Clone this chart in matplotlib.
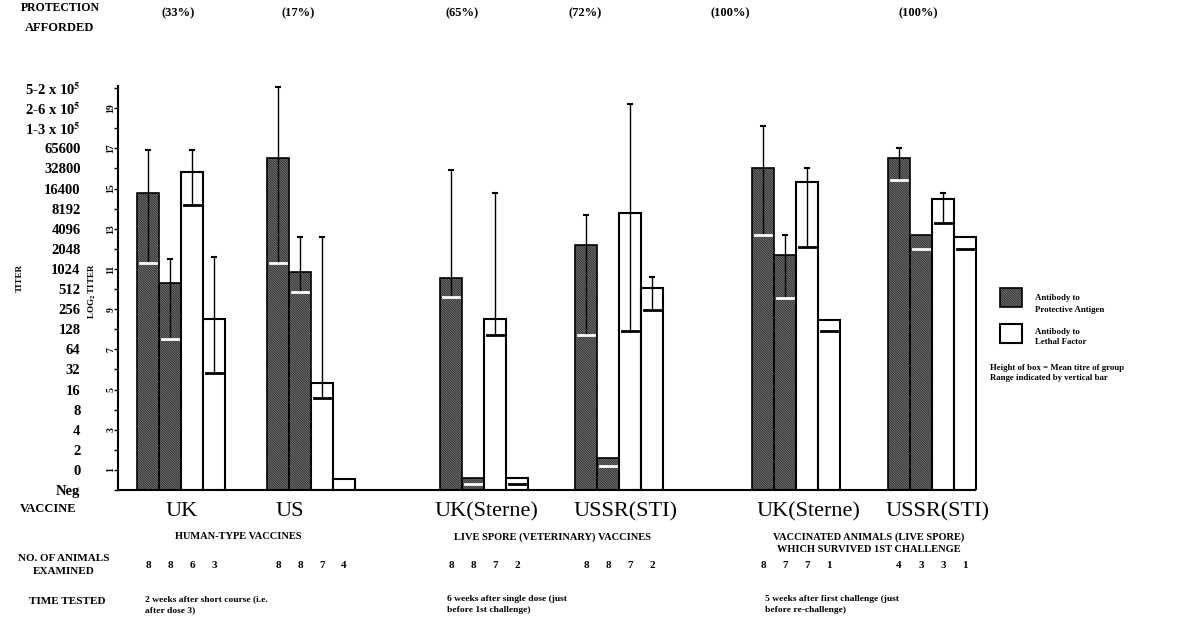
import matplotlib
matplotlib.use('Agg')
import matplotlib.pyplot as plt
from matplotlib.patches import Rectangle

plt.rcParams['font.family'] = ['Liberation Serif', 'DejaVu Serif']
plt.rcParams['font.weight'] = 'bold'
plt.rcParams['mathtext.fontset'] = 'stix'
plt.rcParams['hatch.linewidth'] = 0.8

vaccines = ['UK', 'US', 'UK(Sterne)', 'USSR(STI)', 'UK(Sterne)', 'USSR(STI)']
protection = ['(33%)', '(17%)', '(65%)', '(72%)', '(100%)', '(100%)']
n_animals = [[8, 8, 6, 3], [8, 8, 7, 4], [8, 8, 7, 2],
             [8, 8, 7, 2], [8, 7, 7, 1], [4, 3, 3, 1]]

# titre in log2 steps: 0 = "0" row, -1 = Neg
# bars per group: PA, PA, LF, LF
mean_titre = [[13.8, 9.3, 14.8, 7.5],
              [15.5, 9.85, 4.3, -0.45],
              [9.55, -0.4, 7.5, -0.4],
              [11.2, 0.6, 12.8, 9.05],
              [15.0, 10.7, 14.3, 7.45],
              [15.5, 11.7, 13.5, 11.6]]
range_high = [[15.9, 10.5, 15.9, 10.6],
              [19.05, 11.6, 11.6, None],
              [14.9, None, 13.8, None],
              [12.7, None, 18.2, 9.6],
              [17.1, 11.7, 15.0, None],
              [16.0, None, 13.8, None]]
range_low = [[10.3, 6.5, 13.2, 4.8],
             [10.3, 8.85, 3.6, None],
             [8.6, -0.7, 6.7, -0.7],
             [6.7, 0.2, 6.9, 7.95],
             [11.7, 8.55, 11.1, 6.9],
             [14.4, 11.0, 12.3, 11.0]]

titer_labels = ['Neg', '0', '2', '4', '8', '16', '32', '64', '128', '256', '512',
                '1024', '2048', '4096', '8192', '16400', '32800', '65600',
                '1-3 x 10$^5$', '2-6 x 10$^5$', '5-2 x 10$^5$']

time_tested = ['2 weeks after short course (i.e.\nafter dose 3)',
               '6 weeks after single dose (just\nbefore 1st challenge)',
               '5 weeks after first challenge (just\nbefore re-challenge)']
group_titles = ['HUMAN-TYPE VACCINES', 'LIVE SPORE (VETERINARY) VACCINES',
                'VACCINATED ANIMALS (LIVE SPORE)\nWHICH SURVIVED 1ST CHALLENGE']

# layout (pixels)
group_left = [19, 149, 322, 457, 634, 770]
bar_w = 22
dark = '#161616'
hatch_col = '#707070'

fig = plt.figure(figsize=(12, 6.24), dpi=100)
ax = fig.add_axes([118 / 1200, (624 - 490) / 624, 882 / 1200, 410 / 624])
ax.set_xlim(0, 882)
ax.set_ylim(-1, 19.4)

for g in range(6):
    for k in range(4):
        x = group_left[g] + k * bar_w
        m = mean_titre[g][k]
        xc = x + bar_w / 2
        if k < 2:
            ax.bar(x, m + 1, bottom=-1, width=bar_w, align='edge', color=dark,
                   edgecolor=hatch_col, hatch='\\' * 14, linewidth=0, zorder=2)
            ax.bar(x, m + 1, bottom=-1, width=bar_w, align='edge', fill=False,
                   edgecolor='black', linewidth=1.2, zorder=3)
        else:
            ax.bar(x, m + 1, bottom=-1, width=bar_w, align='edge', color='white',
                   edgecolor='black', linewidth=1.5, zorder=2)
        hi = range_high[g][k]
        lo = range_low[g][k]
        if hi is not None:
            ax.plot([xc, xc], [lo, hi], color='black', lw=1, zorder=4)
            ax.plot([xc - 2, xc + 2], [hi, hi], color='black', lw=1.5, zorder=4)
        if lo is not None:
            ax.plot([x + 3, x + bar_w - 3], [lo, lo],
                    color='white' if k < 2 else 'black', lw=2, zorder=5)

ax.set_xticks([])
ax.set_yticks(range(-1, 20))
ax.set_yticklabels(titer_labels, fontsize=10.5)
ax.tick_params(axis='y', length=3, width=1, pad=24)
for s in ['top', 'right']:
    ax.spines[s].set_visible(False)
ax.spines['left'].set_bounds(-1, 19.1)
ax.spines['bottom'].set_bounds(0, 857)
ax.spines['left'].set_linewidth(1.5)
ax.spines['bottom'].set_linewidth(1.5)

for k in range(10):
    ax.text(-7, 2 * k, str(2 * k + 1), rotation=90, fontsize=7,
            ha='center', va='center', clip_on=False)
ax.text(-26, 8.9, 'LOG$_2$ TITER', rotation=90, fontsize=6.5,
        ha='center', va='center', clip_on=False)

# annotation layer in pixel coords
ov = fig.add_axes([0, 0, 1, 1])
ov.set_xlim(0, 1200)
ov.set_ylim(624, 0)
ov.axis('off')

ov.text(20, 278, 'TITER', rotation=90, fontsize=6.5, ha='center', va='center')
ov.text(60, 8, 'PROTECTION', fontsize=8.5, ha='center', va='center')
ov.text(60, 28, 'AFFORDED', fontsize=9, ha='center', va='center')
for xp, p in zip([178, 298, 462, 585, 730, 918], protection):
    ov.text(xp, 13, p, fontsize=9, ha='center', va='center')

ov.text(48, 509, 'VACCINE', fontsize=9, ha='center', va='center')
for xp, v in zip([182, 290, 486, 626, 808, 937], vaccines):
    ov.text(xp, 512, v, fontsize=16, ha='center', va='center', fontweight='normal')
for xp, t in zip([238, 553, 869], group_titles):
    ov.text(xp, 532, t, fontsize=7.5, ha='center', va='top', linespacing=1.5)

ov.text(64, 565, 'NO. OF ANIMALS\nEXAMINED', fontsize=8, ha='center', va='center',
        linespacing=1.6)
for g in range(6):
    for k in range(4):
        ov.text(118 + group_left[g] + (k + 0.5) * bar_w, 566, str(n_animals[g][k]),
                fontsize=8, ha='center', va='center')

ov.text(67, 601, 'TIME TESTED', fontsize=8, ha='center', va='center')
for xp, t in zip([145, 447, 765], time_tested):
    ov.text(xp, 595, t, fontsize=6.8, ha='left', va='top', linespacing=1.5)

# legend
ov.add_patch(Rectangle((1000, 288), 22, 19, facecolor=dark, edgecolor=hatch_col,
                       hatch='\\' * 14, linewidth=0))
ov.add_patch(Rectangle((1000, 288), 22, 19, fill=False, edgecolor='black', linewidth=1.2))
ov.add_patch(Rectangle((1000, 324), 22, 19, facecolor='white', edgecolor='black',
                       linewidth=1.5))
ov.text(1035, 304, 'Antibody to\nProtective Antigen', fontsize=6.3, ha='left', va='center',
        linespacing=1.5)
ov.text(1035, 337, 'Antibody to\nLethal Factor', fontsize=6.3, ha='left', va='center',
        linespacing=1.5)
ov.text(990, 373, 'Height of box = Mean titre of group\nRange indicated by vertical bar',
        fontsize=6.3, ha='left', va='center', linespacing=1.5)

fig.savefig('out.png', dpi=100)
